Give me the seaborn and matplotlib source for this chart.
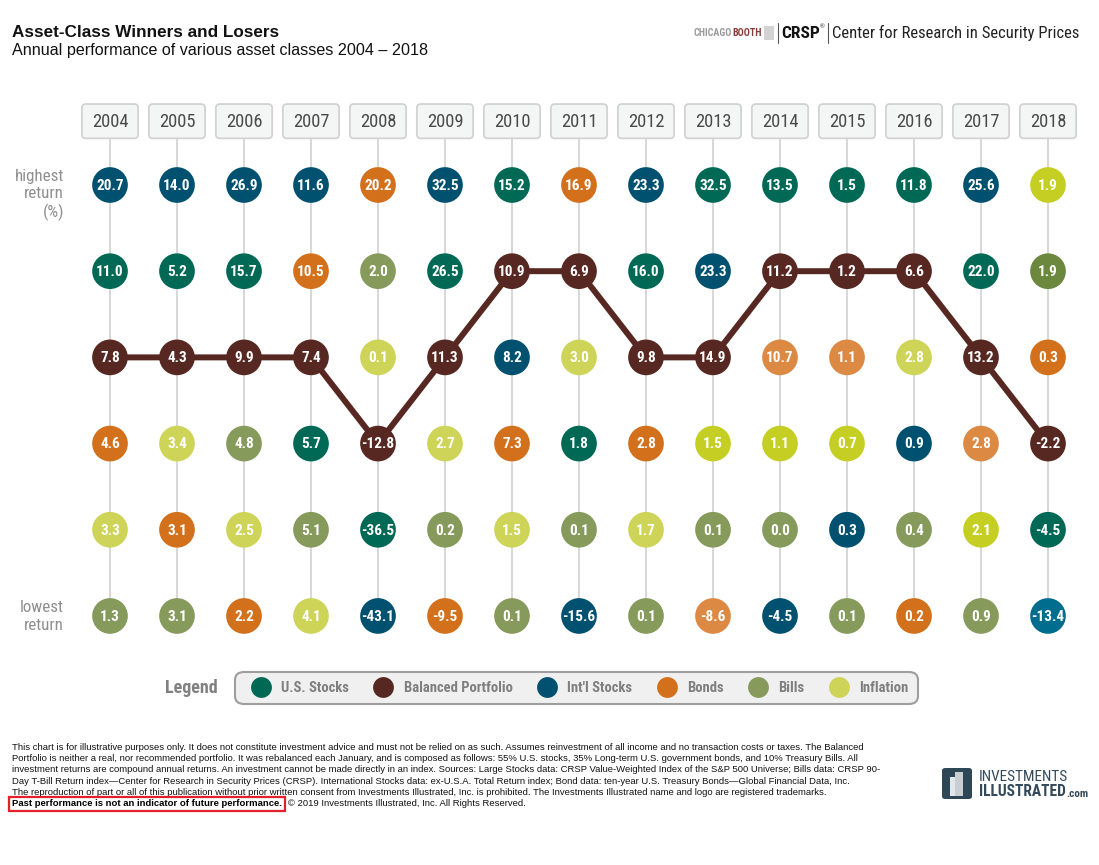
import os
import numpy as np
import pandas as pd
import matplotlib
matplotlib.use("Agg")
import matplotlib.pyplot as plt
import seaborn as sns
from matplotlib import font_manager as fm
from matplotlib.patches import FancyBboxPatch, Rectangle
from matplotlib.lines import Line2D

# ---------------- data ----------------
YEARS = list(range(2004, 2019))
ASSET_CODES = ["U", "P", "I", "B", "T", "F"]
ASSET_NAMES = ["U.S. Stocks", "Balanced Portfolio", "Int'l Stocks", "Bonds", "Bills", "Inflation"]

# rank 1 = highest return ... rank 6 = lowest return
ROW1_ASSET = ["I", "I", "I", "I", "B", "I", "U", "B", "I", "U", "U", "U", "U", "I", "F"]
ROW1_VALUE = [20.7, 14.0, 26.9, 11.6, 20.2, 32.5, 15.2, 16.9, 23.3, 32.5, 13.5, 1.5, 11.8, 25.6, 1.9]
ROW2_ASSET = ["U", "U", "U", "B", "T", "U", "P", "P", "U", "I", "P", "P", "P", "U", "T"]
ROW2_VALUE = [11.0, 5.2, 15.7, 10.5, 2.0, 26.5, 10.9, 6.9, 16.0, 23.3, 11.2, 1.2, 6.6, 22.0, 1.9]
ROW3_ASSET = ["P", "P", "P", "P", "F", "P", "I", "F", "P", "P", "B", "B", "F", "P", "B"]
ROW3_VALUE = [7.8, 4.3, 9.9, 7.4, 0.1, 11.3, 8.2, 3.0, 9.8, 14.9, 10.7, 1.1, 2.8, 13.2, 0.3]
ROW4_ASSET = ["B", "F", "T", "U", "P", "F", "B", "U", "B", "F", "F", "F", "I", "B", "P"]
ROW4_VALUE = [4.6, 3.4, 4.8, 5.7, -12.8, 2.7, 7.3, 1.8, 2.8, 1.5, 1.1, 0.7, 0.9, 2.8, -2.2]
ROW5_ASSET = ["F", "B", "F", "T", "U", "T", "F", "T", "F", "T", "T", "I", "T", "F", "U"]
ROW5_VALUE = [3.3, 3.1, 2.5, 5.1, -36.5, 0.2, 1.5, 0.1, 1.7, 0.1, 0.0, 0.3, 0.4, 2.1, -4.5]
ROW6_ASSET = ["T", "T", "B", "F", "I", "B", "T", "I", "T", "B", "I", "T", "B", "T", "I"]
ROW6_VALUE = [1.3, 3.1, 2.2, 4.1, -43.1, -9.5, 0.1, -15.6, 0.1, -8.6, -4.5, 0.1, 0.2, 0.9, -13.4]

ROW_ASSETS = [ROW1_ASSET, ROW2_ASSET, ROW3_ASSET, ROW4_ASSET, ROW5_ASSET, ROW6_ASSET]
ROW_VALUES = [ROW1_VALUE, ROW2_VALUE, ROW3_VALUE, ROW4_VALUE, ROW5_VALUE, ROW6_VALUE]

# ---------------- style ----------------
PALETTE = {
    "U": "#006956", "P": "#572822", "I": "#00506F", "B": "#D2701B",
    "T": "#869A5C", "F": "#CDD458",
    "B_light": "#DC8944", "F_bright": "#C5CF23", "T_dark": "#6B883E", "I_light": "#006D8E",
}
SHADE_OVERRIDE = {
    (2013, "B"): "B_light", (2014, "B"): "B_light", (2015, "B"): "B_light", (2017, "B"): "B_light",
    (2013, "F"): "F_bright", (2014, "F"): "F_bright", (2015, "F"): "F_bright",
    (2017, "F"): "F_bright", (2018, "F"): "F_bright",
    (2018, "T"): "T_dark", (2018, "I"): "I_light",
}

sns.set_theme(style="white")
SANS = ["Liberation Sans", "DejaVu Sans"]
plt.rcParams["font.family"] = SANS


# ---- find a condensed sans font (file based) ----
def _is_bold(w):
    return w in (700, 800, "bold", "heavy", "extra bold", "black") or (isinstance(w, int) and w >= 700)


def _is_regular(w):
    return w in (400, "normal", "regular", "book", "medium", 500)


PREFS = ["robotocondensed", "liberationsansnarrow", "opensans_condensed", "opensanscondensed",
         "opensans-condensed", "notosans-condensed", "notosanscondensed", "dejavusanscondensed"]


def _score(f):
    key = (f.name + os.path.basename(f.fname)).lower().replace(" ", "")
    for i, p in enumerate(PREFS):
        if p in key:
            if "semi" in key or "extra" in key or "ultra" in key:
                return None
            return i
    if f.stretch in ("condensed",) and "sans" in key:
        return len(PREFS)
    return None


reg_c, bold_c = {}, {}
for f in fm.fontManager.ttflist:
    s = _score(f)
    if s is None or f.style != "normal":
        continue
    if _is_bold(f.weight) and "light" not in f.fname.lower():
        bold_c.setdefault(s, f.fname)
    elif _is_regular(f.weight) and "light" not in f.fname.lower() and "medium" not in f.fname.lower():
        reg_c.setdefault(s, f.fname)
common = sorted(set(reg_c) & set(bold_c))
if common:
    NR = fm.FontProperties(fname=reg_c[common[0]])
    NB = fm.FontProperties(fname=bold_c[common[0]])
    SCALE = 1.0
else:
    NR = fm.FontProperties(family="Liberation Sans")
    NB = fm.FontProperties(family="Liberation Sans", weight="bold")
    SCALE = 0.84


def nr(size):
    p = NR.copy()
    p.set_size(size * SCALE)
    return p


def nb(size):
    p = NB.copy()
    p.set_size(size * SCALE)
    return p


W, H = 1099, 865
fig = plt.figure(figsize=(W / 100, H / 100), dpi=100)
fig.patch.set_facecolor("white")


def fx(x):
    return x / W


def fy(y):
    return 1 - y / H


# ---------------- long table ----------------
rows = []
for r, (assets, vals) in enumerate(zip(ROW_ASSETS, ROW_VALUES)):
    for yr, a, v in zip(YEARS, assets, vals):
        rows.append({"year": yr, "rank": r + 1, "asset": a, "value": v,
                     "shade": SHADE_OVERRIDE.get((yr, a), a)})
df = pd.DataFrame(rows)

# ---------------- main axes ----------------
TOP_PX, BOT_PX = 98.8, 676.3
ax = fig.add_axes([fx(76.5), fy(BOT_PX), 1005 / W, (BOT_PX - TOP_PX) / H])

BOX_C, BOX_H, BOX_W = 0.26, 0.398, 0.84
ax.vlines(YEARS, BOX_C + BOX_H / 2, 6, color="#D4D4D4", lw=1.3, zorder=1)

bal = df[df["asset"] == "P"].sort_values("year")
sns.lineplot(data=bal, x="year", y="rank", estimator=None, color=PALETTE["P"],
             lw=4.3, ax=ax, zorder=2)
sns.scatterplot(data=df, x="year", y="rank", hue="shade", palette=PALETTE,
                s=660, linewidth=0, legend=False, ax=ax, zorder=3)

for _, row in df.iterrows():
    ax.text(row["year"], row["rank"] + 0.01, f"{row['value']:.1f}", ha="center", va="center",
            color="white", fontproperties=nb(11), zorder=4)

for yr in YEARS:
    ax.add_patch(FancyBboxPatch((yr - BOX_W / 2, BOX_C - BOX_H / 2), BOX_W, BOX_H,
                                boxstyle="round,pad=0,rounding_size=0.06", mutation_aspect=0.777,
                                fc="#F4F5F5", ec="#D2D2D2", lw=1.3, clip_on=False, zorder=2))
    ax.text(yr, BOX_C + 0.01, str(yr), ha="center", va="center", fontproperties=nr(13.3),
            color="#4A4A4A", zorder=3)

ax.set_xlim(2003.5, 2018.5)
ax.set_ylim(6.7, 0)
ax.axis("off")

# side labels
GRAY = "#8E8E8E"
for s, y in [("highest", 176), ("return", 194), ("(%)", 212), ("lowest", 607), ("return", 625)]:
    fig.text(fx(64), fy(y), s, ha="right", va="center", fontproperties=nr(12.2), color=GRAY)

# ---------------- titles ----------------
fig.text(fx(12), fy(37), "Asset-Class Winners and Losers", fontsize=12.3, fontweight="bold",
         color="#111111", va="baseline", family=SANS)
fig.text(fx(12), fy(55), "Annual performance of various asset classes 2004 \u2013 2018", fontsize=11.6,
         color="#111111", va="baseline", family=SANS)

renderer = fig.canvas.get_renderer()


def ext(t):
    return t.get_window_extent(renderer)


# top right logo (laid out right to left)
YL = 33
tc = fig.text(fx(1079), fy(YL), "Center for Research in Security Prices", fontproperties=nr(12.0),
              color="#222222", va="center", ha="right")
xb2 = ext(tc).x0 - 4
fig.add_artist(Line2D([fx(xb2), fx(xb2)], [fy(23), fy(43)], transform=fig.transFigure,
                      color="#555555", lw=0.8))
treg = fig.text(fx(xb2 - 3), fy(27), "\u00ae", fontsize=4.5, color="#111111", va="center",
                ha="right", family=SANS)
tcr = fig.text(fx(ext(treg).x0 - 0.5), fy(YL), "CRSP", fontproperties=nb(12.5), color="#111111",
               va="center", ha="right")
xb1 = ext(tcr).x0 - 3
fig.add_artist(Line2D([fx(xb1), fx(xb1)], [fy(23), fy(43)], transform=fig.transFigure,
                      color="#555555", lw=0.8))
fig.add_artist(Rectangle((fx(xb1 - 14), fy(40)), 10 / W, 14 / H, transform=fig.transFigure,
                         fc="#D3D3D3", ec="none"))
tbo = fig.text(fx(xb1 - 16), fy(YL), "BOOTH", fontproperties=nb(7.2), color="#8C3B3B",
               va="center", ha="right")
fig.text(fx(ext(tbo).x0 - 0.5), fy(YL), "CHICAGO", fontproperties=nb(7.2), color="#9A9A9A",
         va="center", ha="right")

# ---------------- legend ----------------
handles = [Line2D([], [], marker="o", linestyle="none", markersize=15,
                  markerfacecolor=PALETTE[c], markeredgewidth=0) for c in ASSET_CODES]
leg = fig.legend(handles, ASSET_NAMES, loc="center", bbox_to_anchor=(fx(576.5), fy(688)),
                 ncol=6, frameon=True, fancybox=True, prop=nb(10.5),
                 labelcolor="#7F7F7F", handletextpad=0.3, columnspacing=1.25,
                 borderpad=0.65, handlelength=2.2)
frame = leg.get_frame()
frame.set_facecolor("#F0F0F0")
frame.set_edgecolor("#9E9E9E")
frame.set_linewidth(1.5)
frame.set_alpha(1)
frame.set_boxstyle("round,pad=0,rounding_size=0.6")
fig.text(fx(218), fy(688), "Legend", ha="right", va="center", fontproperties=nb(13),
         color="#808080")

# ---------------- footnote ----------------
NOTE = [
    "This chart is for illustrative purposes only. It does not constitute investment advice and must not be relied on as such. Assumes reinvestment of all income and no transaction costs or taxes. The Balanced",
    "Portfolio is neither a real, nor recommended portfolio. It was rebalanced each January, and is composed as follows: 55% U.S. stocks, 35% Long-term U.S. government bonds, and 10% Treasury Bills. All",
    "investment returns are compound annual returns. An investment cannot be made directly in an index. Sources: Large Stocks data: CRSP Value-Weighted Index of the S&P 500 Universe; Bills data: CRSP 90-",
    "Day T-Bill Return index\u2014Center for Research in Security Prices (CRSP). International Stocks data: ex-U.S.A. Total Return index; Bond data: ten-year U.S. Treasury Bonds\u2014Global Financial Data, Inc.",
    "The reproduction of part or all of this publication without prior written consent from Investments Illustrated, Inc. is prohibited. The Investments Illustrated name and logo are registered trademarks.",
]
NOTE_BOLD = "Past performance is not an indicator of future performance."
NOTE_END = "\u00a9 2019 Investments Illustrated, Inc. All Rights Reserved."
FS = 6.8
for i, line in enumerate(NOTE):
    fig.text(fx(12), fy(747 + i * 11.4), line, fontsize=FS, color="#111111", va="center", family=SANS)
tb = fig.text(fx(12), fy(747 + 5 * 11.4), NOTE_BOLD, fontsize=FS, fontweight="bold",
              color="#000000", va="center", family=SANS,
              bbox=dict(boxstyle="square,pad=0.3", fc="none", ec="#E3212B", lw=1.6))
fig.text(fx(ext(tb).x1 + 6), fy(747 + 5 * 11.4), NOTE_END, fontsize=FS, color="#111111",
         va="center", family=SANS)

# bottom right logo
fig.add_artist(FancyBboxPatch((fx(942), fy(799)), 30 / W, 31 / H, transform=fig.transFigure,
                              boxstyle="round,pad=0,rounding_size=0.003", fc="#2E4757", ec="none"))
fig.add_artist(Rectangle((fx(950), fy(796)), 13 / W, 19 / H, transform=fig.transFigure,
                         fc="#E4E7EA", ec="none"))
fig.add_artist(Rectangle((fx(955), fy(796)), 8 / W, 24 / H, transform=fig.transFigure,
                         fc="#C9CED3", ec="none"))
fig.text(fx(979), fy(777), "INVESTMENTS", fontproperties=nr(11), color="#34495A", va="center")
ti = fig.text(fx(979), fy(792), "ILLUSTRATED", fontproperties=nb(11.2), color="#34495A", va="center")
fig.text(fx(ext(ti).x1 + 0.5), fy(794), ".com", fontproperties=nb(8), color="#34495A", va="center")

fig.savefig("out.png", dpi=100, facecolor="white")
